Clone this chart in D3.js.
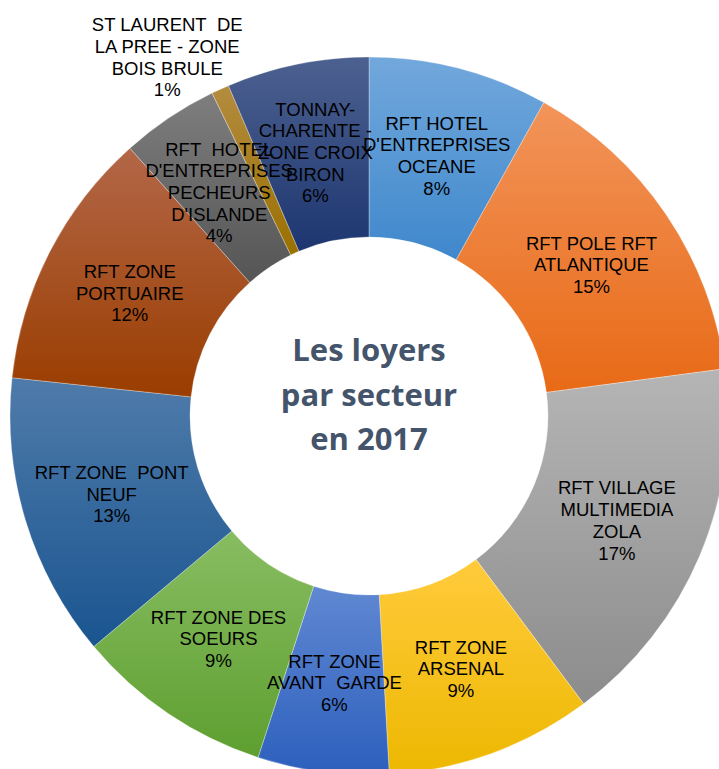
<!DOCTYPE html>
<html>
<head>
<meta charset="utf-8">
<script src="https://cdn.jsdelivr.net/npm/d3@7"></script>
<style>
  html, body { margin: 0; padding: 0; background: #fff; }
  svg { display: block; }
</style>
</head>
<body>
<svg id="chart" width="719" height="769"></svg>
<script>
// ---- Data ----
const categories = [
  "RFT HOTEL D'ENTREPRISES OCEANE",
  "RFT POLE RFT ATLANTIQUE",
  "RFT VILLAGE MULTIMEDIA ZOLA",
  "RFT ZONE ARSENAL",
  "RFT ZONE AVANT GARDE",
  "RFT ZONE DES SOEURS",
  "RFT ZONE PONT NEUF",
  "RFT ZONE PORTUAIRE",
  "RFT HOTEL D'ENTREPRISES PECHEURS D'ISLANDE",
  "ST LAURENT DE LA PREE - ZONE BOIS BRULE",
  "TONNAY-CHARENTE - ZONE CROIX BIRON"
];
const values = [8.1, 14.8, 16.9, 9.3, 5.9, 8.9, 12.8, 11.7, 4.4, 0.8, 6.4];
const labelLines = [
  ["RFT HOTEL", "D'ENTREPRISES", "OCEANE"],
  ["RFT POLE RFT", "ATLANTIQUE"],
  ["RFT VILLAGE", "MULTIMEDIA", "ZOLA"],
  ["RFT ZONE", "ARSENAL"],
  ["RFT ZONE", "AVANT\u00a0 GARDE"],
  ["RFT ZONE DES", "SOEURS"],
  ["RFT ZONE\u00a0 PONT", "NEUF"],
  ["RFT ZONE", "PORTUAIRE"],
  ["RFT\u00a0 HOTEL", "D'ENTREPRISES", "PECHEURS", "D'ISLANDE"],
  ["ST LAURENT\u00a0 DE", "LA PREE - ZONE", "BOIS BRULE"],
  ["TONNAY-", "CHARENTE -", "ZONE CROIX", "BIRON"]
];
const titleLines = ["Les loyers", "par secteur", "en 2017"];

// ---- Styles ----
const gradTop = ["#72A8DC", "#F2945A", "#B5B5B5", "#FFCB3C", "#6088D2", "#88BD62",
                 "#4F7BAA", "#B36748", "#7E7E7E", "#B38C40", "#4D6190"];
const gradBottom = ["#3F88CC", "#E86A16", "#8C8C8C", "#EDB800", "#2C5FBD", "#5E9F30",
                    "#1A5590", "#9A3D00", "#555555", "#9A7000", "#1D3670"];
const cx = 369, cy = 416, outerR = 359, innerR = 179;
const outsideLabelIndex = 9;

const svg = d3.select("#chart");
const defs = svg.append("defs");
categories.forEach((c, i) => {
  const g = defs.append("linearGradient")
    .attr("id", "grad" + i).attr("x1", 0).attr("y1", 0).attr("x2", 0).attr("y2", 1);
  g.append("stop").attr("offset", "0%").attr("stop-color", gradTop[i]);
  g.append("stop").attr("offset", "100%").attr("stop-color", gradBottom[i]);
});

const data = categories.map((c, i) => ({ name: c, value: values[i], lines: labelLines[i], idx: i }));
const total = d3.sum(values);
const pie = d3.pie().sort(null).value(d => d.value);
const arcs = pie(data);
const arc = d3.arc().innerRadius(innerR).outerRadius(outerR);
const outerArc = d3.arc().innerRadius(outerR).outerRadius(outerR);

const g = svg.append("g").attr("transform", `translate(${cx},${cy})`);

g.selectAll("path.slice").data(arcs).enter().append("path")
  .attr("class", "slice")
  .attr("d", arc)
  .attr("fill", d => `url(#grad${d.data.idx})`)
  .attr("stroke", "#ffffff")
  .attr("stroke-opacity", 0.5)
  .attr("stroke-width", 0.6);

const lineH = 21.7;
const labels = g.selectAll("text.lbl").data(arcs).enter().append("text")
  .attr("class", "lbl")
  .attr("font-family", "'Liberation Sans', Arial, sans-serif")
  .attr("font-size", "18.5px")
  .attr("fill", "#000")
  .attr("text-anchor", "middle")
  .attr("transform", d => {
    let p;
    if (d.data.idx === outsideLabelIndex) {
      const o = outerArc.centroid(d);
      p = [o[0] - 53, o[1] - 32];
    } else {
      p = arc.centroid(d);
    }
    return `translate(${p[0]},${p[1]})`;
  });

labels.each(function(d) {
  const lines = d.data.lines.concat([Math.round(d.data.value / total * 100) + "%"]);
  const n = lines.length;
  const t = d3.select(this);
  lines.forEach((ln, k) => {
    t.append("tspan")
      .attr("x", 0)
      .attr("y", (k - (n - 1) / 2) * lineH + 6.5)
      .text(ln);
  });
});

const title = g.append("text")
  .attr("text-anchor", "middle")
  .attr("font-family", "'Open Sans', 'Noto Sans', sans-serif")
  .attr("font-weight", "bold")
  .attr("font-size", "31px")
  .attr("fill", "#44546A");
titleLines.forEach((ln, k) => {
  title.append("tspan").attr("x", 0).attr("y", -55 + k * 44.5).text(ln);
});
</script>
</body>
</html>
